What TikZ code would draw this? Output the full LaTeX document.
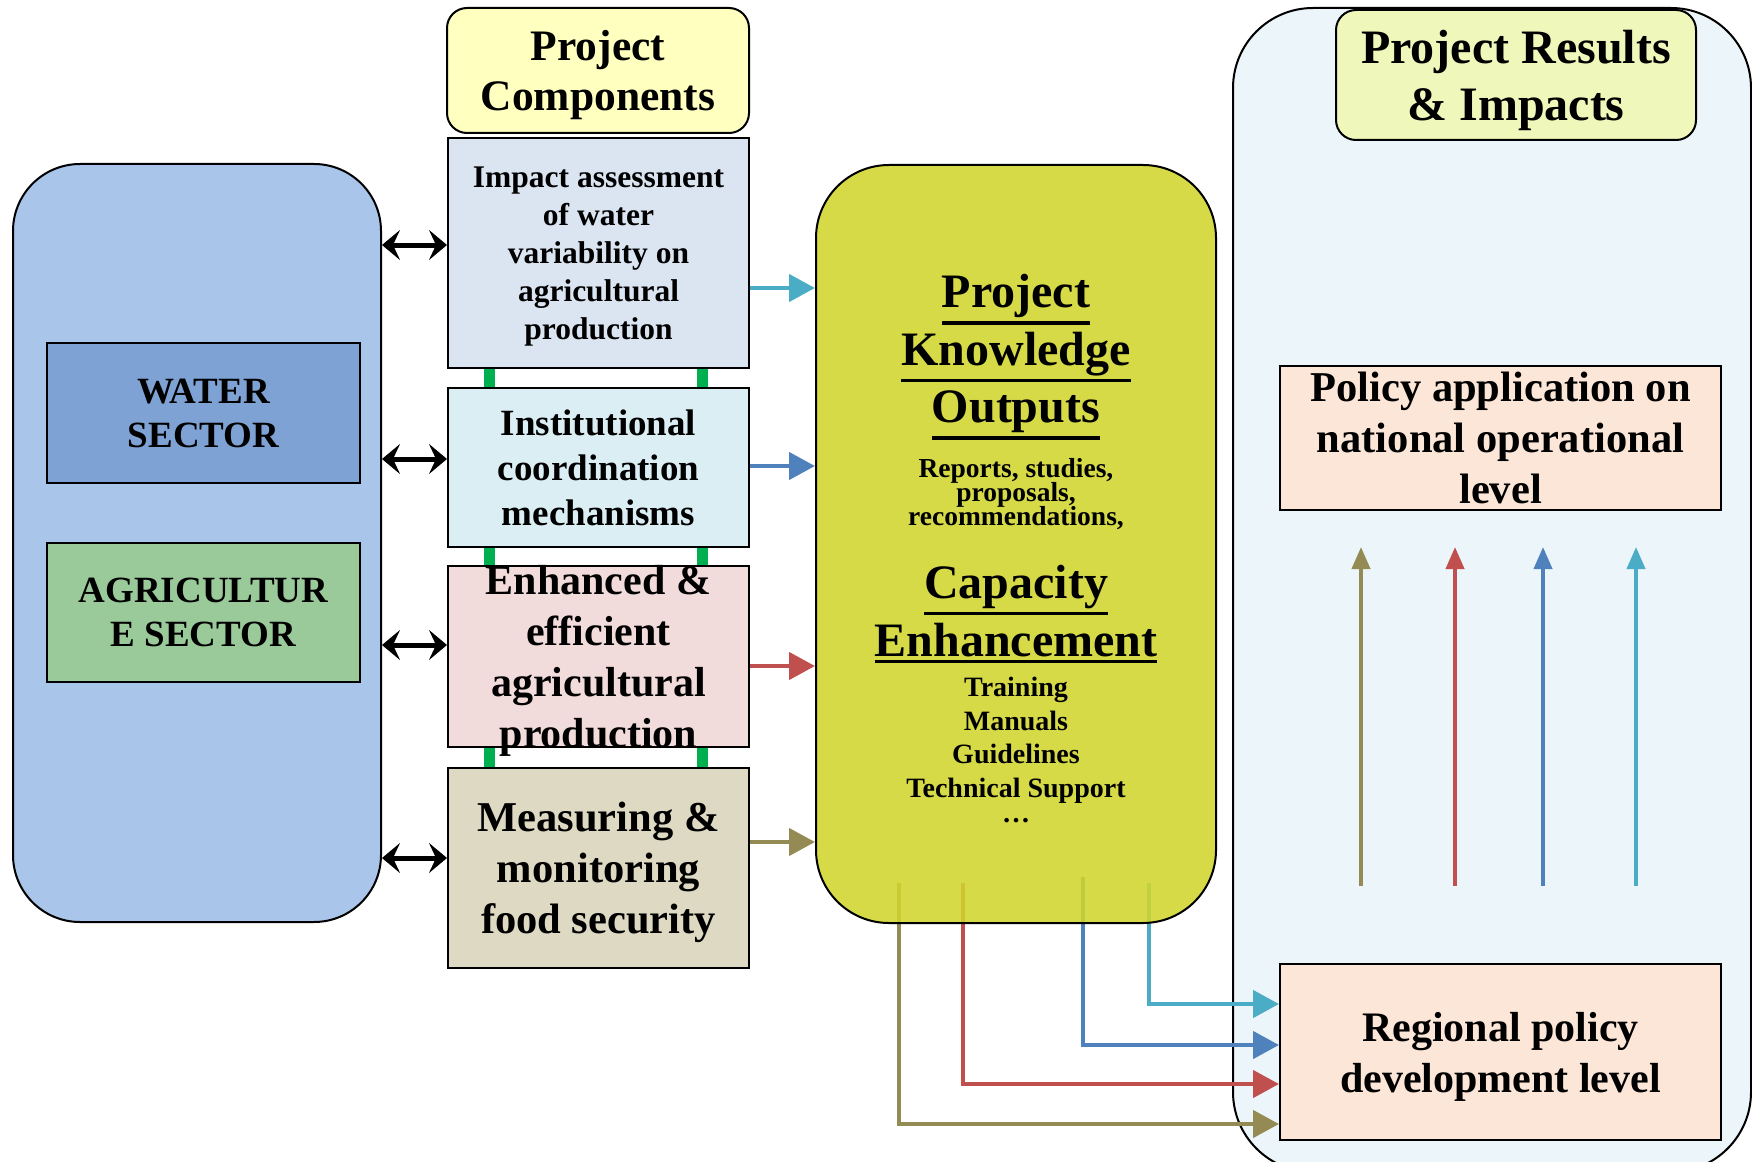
\documentclass[tikz,border=0pt]{standalone}
\usepackage{fontspec}
\setmainfont{Liberation Serif}
\usetikzlibrary{arrows.meta}

\definecolor{sectorblue}{HTML}{A9C5E9}
\definecolor{waterblue}{HTML}{7EA2D4}
\definecolor{agrigreen}{HTML}{9BCA9A}
\definecolor{headyellow}{HTML}{FFFFC0}
\definecolor{impactfill}{HTML}{DBE4F1}
\definecolor{instfill}{HTML}{DBEEF4}
\definecolor{enhfill}{HTML}{F2DCDB}
\definecolor{measfill}{HTML}{DDD9C3}
\definecolor{knowfill}{HTML}{D0D52E}
\definecolor{resultfill}{HTML}{ECF5F9}
\definecolor{resulthead}{HTML}{EFF7BA}
\definecolor{policyfill}{HTML}{FCE6D8}
\definecolor{arrcyan}{HTML}{4BACC6}
\definecolor{arrblue}{HTML}{4F81BD}
\definecolor{arrred}{HTML}{C0504D}
\definecolor{arrolive}{HTML}{948A54}
\definecolor{linkgreen}{HTML}{00B050}

\newcommand{\bsize}[2]{\fontsize{#1}{#2}\selectfont\bfseries}
\newcommand{\ulbox}[1]{\setbox0=\hbox{#1}\leavevmode\rlap{\rule[-\dimexpr\dp0+6.5pt\relax]{\wd0}{3.5pt}}\box0}

\begin{document}
\begin{tikzpicture}[x=1pt,y=-1pt,
  box/.style={draw=black,line width=2pt,align=center,inner sep=0pt,text depth=0pt},
  twoway/.style={line width=5pt,{Stealth[length=18pt,width=30pt,inset=7pt]}-{Stealth[length=18pt,width=30pt,inset=7pt]}},
  feed/.style={line width=4.5pt,-{Triangle[length=26pt,width=27pt]}},
  rise/.style={line width=4pt,-{Triangle[length=22pt,width=18pt]}},
  link/.style={line width=11pt,linkgreen}]
\useasboundingbox (0,0) rectangle (1752,1161);

% results side
\node[box,rounded corners=80pt,fill=resultfill,minimum width=518pt,minimum height=1164pt] (results) at (1492,590) {};
\node[box,rounded corners=20pt,fill=resulthead,minimum width=360pt,minimum height=130pt,font={\bsize{48}{57}}] (resultshead) at (1516,75) {Project Results\\\& Impacts};
\node[box,fill=policyfill,minimum width=441pt,minimum height=144pt,font={\bsize{42.5}{51}}] (national) at (1500.5,438) {Policy application on\\national operational\\level};
\node[box,fill=policyfill,minimum width=441pt,minimum height=176pt,font={\bsize{42}{51}}] (regional) at (1500.5,1052) {Regional policy\\development level};

\coordinate (olvlow) at (1361,886);
\coordinate (olvtop) at (1361,547);
\coordinate (redlow) at (1455,886);
\coordinate (redtop) at (1455,547);
\coordinate (blulow) at (1543,886);
\coordinate (blutop) at (1543,547);
\coordinate (cyalow) at (1636,886);
\coordinate (cyatop) at (1636,547);
\draw[rise,arrolive] (olvlow) -- (olvtop);
\draw[rise,arrred] (redlow) -- (redtop);
\draw[rise,arrblue] (blulow) -- (blutop);
\draw[rise,arrcyan] (cyalow) -- (cyatop);

% feedback into regional level
\coordinate (olvout) at (899,883);
\coordinate (redout) at (963,883);
\coordinate (bluout) at (1083,877);
\coordinate (cyaout) at (1149,883);
\draw[feed,arrolive] (olvout) |- ([yshift=-72pt]regional.west);
\draw[feed,arrred] (redout) |- ([yshift=-32pt]regional.west);
\draw[feed,arrblue] (bluout) |- ([yshift=7pt]regional.west);
\draw[feed,arrcyan] (cyaout) |- ([yshift=48pt]regional.west);

% sectors
\node[box,rounded corners=67pt,fill=sectorblue,minimum width=368pt,minimum height=758pt] (sectors) at (197,543) {};
\node[box,fill=waterblue,minimum width=313pt,minimum height=140pt,font={\bsize{37}{44}}] (water) at (203.5,413) {WATER\\SECTOR};
\node[box,fill=agrigreen,minimum width=313pt,minimum height=139pt,font={\bsize{37}{44}}] (agri) at (203.5,612.5) {AGRICULTUR\\E SECTOR};

% components
\node[box,rounded corners=20pt,fill=headyellow,minimum width=302pt,minimum height=125pt,font={\bsize{43.5}{50}}] (comphead) at (598,70.5) {Project\\Components};
\node[box,fill=impactfill,minimum width=301pt,minimum height=229pt,font={\bsize{31.5}{38}}] (impact) at (598.5,253) {Impact assessment\\of water\\variability on\\agricultural\\production};
\node[box,fill=instfill,minimum width=301pt,minimum height=159pt,font={\bsize{37}{45}}] (inst) at (598.5,467.5) {Institutional\\coordination\\mechanisms};
\node[box,fill=enhfill,minimum width=301pt,minimum height=181pt] (enh) at (598.5,656.5) {};
\node[box,fill=measfill,minimum width=301pt,minimum height=200pt,font={\bsize{42.5}{51}}] (meas) at (598.5,868) {Measuring \&\\monitoring\\food security};

\draw[link] (impact.south -| 489,0) -- (inst.north -| 489,0);
\draw[link] (impact.south -| 702,0) -- (inst.north -| 702,0);
\draw[link] (inst.south -| 489,0) -- (enh.north -| 489,0);
\draw[link] (inst.south -| 702,0) -- (enh.north -| 702,0);
\draw[link] (enh.south -| 489,0) -- (meas.north -| 489,0);
\draw[link] (enh.south -| 702,0) -- (meas.north -| 702,0);
\node[align=center,inner sep=0pt,font={\bsize{42}{51}}] (enhtext) at (598.5,661) {Enhanced \&\\efficient\\agricultural\\production};

% knowledge outputs
\node[box,rounded corners=73pt,fill=knowfill,fill opacity=0.88,minimum width=400pt,minimum height=758pt] (knowledge) at (1016,544) {};
\node[align=center,inner sep=0pt,font={\bsize{48}{57.5}}] (outputs) at (1016,357) {\ulbox{Project}\\\ulbox{Knowledge}\\\ulbox{Outputs}};
\node[align=center,inner sep=0pt,font={\bsize{27.5}{24}\lineskiplimit=-30pt}] (reports) at (1016,494) {Reports, studies,\\proposals,\\recommendations,};
\node[align=center,inner sep=0pt,font={\bsize{48}{58}}] (capacity) at (1016,614) {\ulbox{Capacity}\\\ulbox{Enhancement}};
\node[align=center,inner sep=0pt,font={\bsize{28}{33.5}}] (training) at (1016,750) {Training\\Manuals\\Guidelines\\Technical Support\\[-8.5pt]\dots};

\draw[feed,arrcyan] (impact.east |- 0,288) -- (knowledge.west |- 0,288);
\draw[feed,arrblue] (inst.east |- 0,466) -- (knowledge.west |- 0,466);
\draw[feed,arrred] (enh.east |- 0,666) -- (knowledge.west |- 0,666);
\draw[feed,arrolive] (meas.east |- 0,842) -- (knowledge.west |- 0,842);

\draw[twoway] (sectors.east |- 0,245) -- (impact.west |- 0,245);
\draw[twoway] (sectors.east |- 0,459) -- (inst.west |- 0,459);
\draw[twoway] (sectors.east |- 0,645) -- (enh.west |- 0,645);
\draw[twoway] (sectors.east |- 0,858) -- (meas.west |- 0,858);
\end{tikzpicture}
\end{document}
